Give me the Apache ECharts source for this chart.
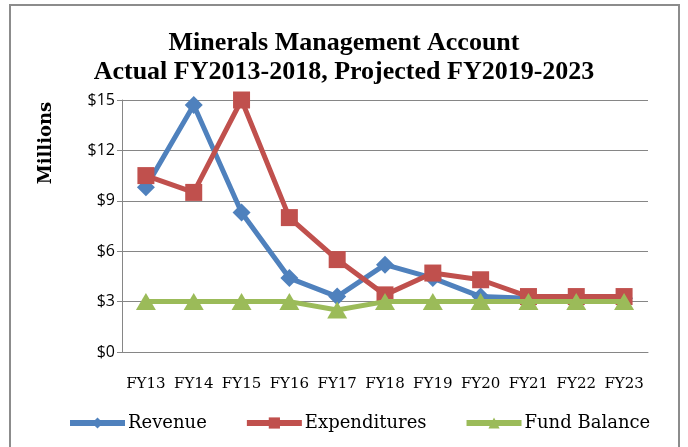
<!DOCTYPE html>
<html>
<head>
<meta charset="utf-8">
<script src="https://cdn.jsdelivr.net/npm/echarts@6/dist/echarts.min.js"></script>
<style>
  html, body { margin: 0; padding: 0; background: #fff; }
  #chart { width: 688px; height: 447px; }
</style>
</head>
<body>
<div id="chart"></div>
<script>
// data (millions of dollars)
const years = ['FY13', 'FY14', 'FY15', 'FY16', 'FY17', 'FY18', 'FY19', 'FY20', 'FY21', 'FY22', 'FY23'];
const revenue = [9.8, 14.7, 8.3, 4.4, 3.3, 5.2, 4.4, 3.3, 3.2, 3.2, 3.2];
const expenditures = [10.5, 9.5, 15.0, 8.0, 5.5, 3.4, 4.7, 4.3, 3.3, 3.3, 3.3];
const fundBalance = [3, 3, 3, 3, 2.5, 3, 3, 3, 3, 3, 3];

const serif = '"DejaVu Serif", "Liberation Serif", serif';

const chart = echarts.init(document.getElementById('chart'));
const option = {
  animation: false,
  title: {
    text: 'Minerals Management Account\nActual FY2013-2018, Projected FY2019-2023',
    left: 'center',
    top: 24,
    textStyle: {
      fontFamily: '"Liberation Serif", serif',
      fontWeight: 'bold',
      fontSize: 26,
      lineHeight: 29,
      color: '#000'
    }
  },
  graphic: [
    {
      type: 'rect',
      shape: { x: 10, y: 5, width: 669, height: 450 },
      style: { fill: 'none', stroke: '#8c8c8c', lineWidth: 2 }
    },
    {
      type: 'text',
      x: 46, y: 143,
      rotation: Math.PI / 2,
      style: {
        text: 'Millions',
        font: 'bold 18px ' + serif,
        fill: '#000',
        align: 'center',
        verticalAlign: 'middle'
      }
    }
  ],
  legend: {
    bottom: 10,
    left: 62,
    itemGap: 37,
    itemWidth: 55,
    itemHeight: 14,
    lineStyle: { width: 6 },
    textStyle: { fontFamily: serif, fontSize: 18, color: '#000', padding: [0, 0, 0, -2] },
    data: ['Revenue', 'Expenditures', 'Fund Balance']
  },
  grid: { left: 122, right: 40, top: 100, bottom: 95 },
  xAxis: {
    type: 'category',
    data: years,
    boundaryGap: true,
    axisLine: { lineStyle: { color: '#868686' } },
    axisTick: { show: false },
    axisLabel: { fontFamily: serif, fontSize: 15, color: '#000', margin: 25, interval: 0 }
  },
  yAxis: {
    type: 'value',
    min: 0,
    max: 15,
    interval: 3,
    axisLine: { show: true, lineStyle: { color: '#868686' } },
    axisTick: { show: true, length: 5, lineStyle: { color: '#868686' } },
    axisLabel: {
      fontFamily: '"Open Sans", "Liberation Sans", sans-serif',
      fontSize: 16,
      color: '#000',
      margin: 7,
      formatter: v => '$' + v
    },
    splitLine: { lineStyle: { color: '#868686', width: 1 } }
  },
  series: [
    {
      name: 'Revenue',
      type: 'line',
      data: revenue,
      symbol: 'diamond',
      symbolSize: 18,
      itemStyle: { color: '#4F81BD' },
      lineStyle: { width: 5, color: '#4F81BD' },
      z: 3
    },
    {
      name: 'Expenditures',
      type: 'line',
      data: expenditures,
      symbol: 'rect',
      symbolSize: 17,
      itemStyle: { color: '#C0504D' },
      lineStyle: { width: 5, color: '#C0504D' },
      z: 4
    },
    {
      name: 'Fund Balance',
      type: 'line',
      data: fundBalance,
      symbol: 'triangle',
      symbolSize: [20, 17],
      itemStyle: { color: '#9BBB59' },
      lineStyle: { width: 5, color: '#9BBB59' },
      z: 5
    }
  ]
};
chart.setOption(option);
</script>
</body>
</html>
